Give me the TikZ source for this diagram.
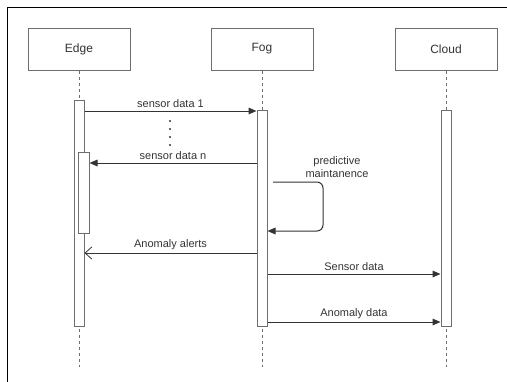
\documentclass[tikz,border=0pt]{standalone}
\usepackage{fontspec}
\setmainfont{Liberation Sans}
\usetikzlibrary{arrows.meta}
\definecolor{boxline}{RGB}{110,110,110}
\definecolor{msgline}{RGB}{51,51,51}
\definecolor{txt}{RGB}{51,51,51}
\tikzset{
  actor/.style={draw=boxline, fill=white, line width=0.75pt, minimum width=76.5pt, minimum height=31.5pt, inner sep=0pt, font=\fontsize{9}{10.8}\selectfont, text=txt},
  actbar/.style={draw=boxline, fill=white, line width=0.75pt, minimum width=7.5pt, inner sep=0pt},
  lifeline/.style={draw=boxline, line width=0.75pt, dash pattern={on 2.25pt off 2.25pt}},
  msg/.style={draw=msgline, line width=0.75pt, -{Triangle[length=6pt,width=5pt]}},
  reply/.style={draw=msgline, line width=0.75pt, -{Straight Barb[length=5pt,width=9pt,line width=0.6pt]}},
  msglabel/.style={font=\fontsize{8.25}{9.9}\selectfont, text=txt, inner sep=0.75pt}
}

\begin{document}
\begin{tikzpicture}[x=0.75pt,y=0.75pt,yscale=-1,xscale=1]
\useasboundingbox (0,0) rectangle (507,382);

%Frame
\draw [line width=0.75pt]  (7.5,382) -- (7.5,7.5) -- (507,7.5) ;

%Shape: Rectangle [Edge]
\node [actor] (edge) at (79,49) {Edge};
%Shape: Rectangle [Fog]
\node [actor] (fog) at (262,49) {Fog};
%Shape: Rectangle [Cloud]
\node [actor] (cloud) at (446,49) {Cloud};

%Lifelines
\coordinate (endE) at (79,367);
\coordinate (endF) at (262,367);
\coordinate (endC) at (446,367);
\draw [lifeline]  (edge.south) -- (endE) ;
\draw [lifeline]  (fog.south) -- (endF) ;
\draw [lifeline]  (cloud.south) -- (endC) ;

%Activation bars
\node [actbar, minimum height=169.5pt] (actE) at (79,213) {};
\node [actbar, minimum height=162pt] (actF) at (262,218) {};
\node [actbar, minimum height=162pt] (actC) at (446,218) {};
\node [actbar, minimum width=8.25pt, minimum height=60.75pt] (actN) at (83.5,192.5) {};

%Message levels
\coordinate (m1) at (0,111);
\coordinate (mn) at (0,163);
\coordinate (sa) at (273,182);
\coordinate (sb) at (0,231);
\coordinate (ma) at (0,253);
\coordinate (ms) at (0,274);
\coordinate (md) at (0,322);
\coordinate (loop) at (323,0);

%Straight Lines [sensor data 1]
\draw [msg]  (actE.east |- m1) -- (actF.west |- m1) node [midway, above=1.5pt, msglabel] {sensor data 1} ;
%Dots
\foreach \y in {121,129,137,145} {
  \fill [msgline] (170,\y) circle [radius=1.1] ;
}
%Straight Lines [sensor data n]
\draw [msg]  (actF.west |- mn) -- (actN.east |- mn) node [midway, above=1.5pt, msglabel] {sensor data n} ;
%Self message
\draw [msg, rounded corners=4.5pt]  (sa) -- (loop |- sa) -- (loop |- sb) -- (actF.east |- sb) ;
% Text Node
\node [msglabel, align=center] (pm) at (337,167) {predictive\\maintanence};
%Straight Lines [Anomaly alerts]
\draw [reply]  (actF.west |- ma) -- (actE.east |- ma) node [midway, above=1.5pt, msglabel] {Anomaly alerts} ;
%Straight Lines [Sensor data]
\draw [msg]  (actF.east |- ms) -- (actC.west |- ms) node [midway, above=1.5pt, msglabel] {Sensor data} ;
%Straight Lines [Anomaly data]
\draw [msg]  (actF.east |- md) -- (actC.west |- md) node [midway, above=1.5pt, msglabel] {Anomaly data} ;

\end{tikzpicture}
\end{document}
